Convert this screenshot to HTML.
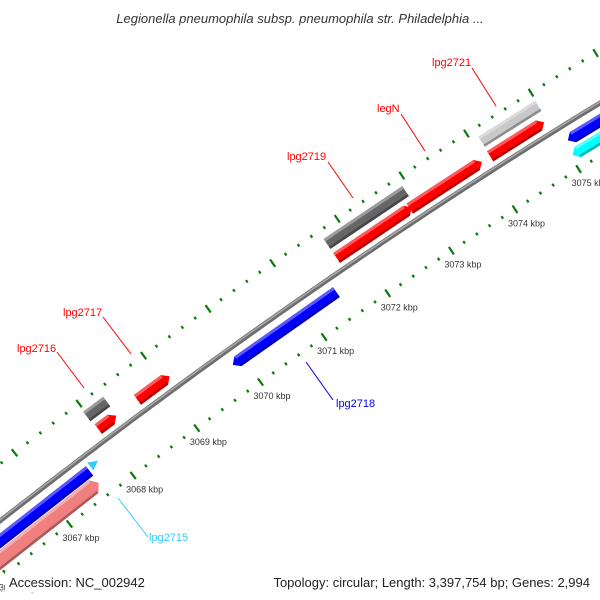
<!DOCTYPE html>
<html><head><meta charset="utf-8"><style>
body{margin:0;background:#fff}
svg{display:block;font-family:"Liberation Sans",sans-serif}
</style></head><body>
<svg id="map" width="600" height="600" viewBox="0 0 600 600" xmlns="http://www.w3.org/2000/svg">
<rect width="600" height="600" fill="#fff"/>
<g id="ticks"></g>
<g id="backbone"></g>
<g id="features"></g>
<g id="labels"></g>
<text x="300" y="23" text-anchor="middle" font-size="13" font-style="italic" fill="#333">Legionella pneumophila subsp. pneumophila str. Philadelphia ...</text>
<text x="0" y="592" font-size="9" fill="#cfcfcf">3066 kbp</text>
<rect x="5" y="572" width="150" height="20" fill="#fff"/>
<text x="9" y="587" font-size="13" fill="#222">Accession: NC_002942</text>
<text x="590" y="587" text-anchor="end" font-size="13" fill="#222">Topology: circular; Length: 3,397,754 bp; Genes: 2,994</text>
</svg>
<script>
const kbpTicks=[3066,3067,3068,3069,3070,3071,3072,3073,3074,3075,3076];
const featNames=["lpg2714","lpg2715-pink","lpg2715","lpg2716","lpg2716b","lpg2717","lpg2718","lpg2719","lpg2719b","legN","lpg2721","lpg2721b","lpg2722","lpg2723"];
const featStart=[3065.0,3065.0,3067.64,3067.98,3068.0,3068.61,3069.84,3071.71,3071.71,3072.85,3074.11,3074.10,3075.08,3075.03];
const featEnd=[3067.6,3067.6,3067.76,3068.29,3068.28,3069.11,3071.46,3072.93,3072.88,3073.97,3074.99,3074.94,3076.2,3076.2];
const featStrand=[-1,1,-1,0,1,1,-1,0,1,1,0,1,-1,-1];
const featRing=[-15,-30,-12,30,13,13,-15,30,13,13,30,13,-15,-30];
const featColor=["#0000ff","#f08080","#33ccff","#666666","#ff0000","#ff0000","#0000ff","#666666","#ff0000","#ff0000","#c8c8c8","#ff0000","#0000ff","#00ffff"];
const labelText=["lpg2716","lpg2717","lpg2719","legN","lpg2721","lpg2718","lpg2715"];
const labelColor=["#ff0000","#ff0000","#ff0000","#ff0000","#ff0000","#0000ff","#33ccff"];
const labelPos=[[17,352],[63,316],[287,160],[377,112],[432,66],[336,407],[149,541]];
const labelLine=[[57,352,84,388],[103,317,131,354],[328,162,353,198],[401,114,425,151],[472,68,496,106],[306,362,333,400],[118,498,148,537]];
const NS="http://www.w3.org/2000/svg";
function bxOf(k){return 42+64.1*(k-3067);}
function P(k,d){const x=bxOf(k);const y=521-0.7833*x+0.0001444*x*x;const m=-0.7833+2*0.0001444*x;const n=Math.hypot(1,m);return [x+d*m/n,y-d/n];}
function mk(tag,attrs,parent){const e=document.createElementNS(NS,tag);for(const k in attrs)e.setAttribute(k,attrs[k]);parent.appendChild(e);return e;}
function pts(a){return a.map(p=>p[0].toFixed(1)+","+p[1].toFixed(1)).join(" ");}
const tg=document.getElementById("ticks");
for(let k=3065;k<=3077.001;k+=0.2){
  const kk=Math.round(k*10)/10;const major=Math.abs(kk-Math.round(kk))<0.01;
  for(const d of [45,-45]){
    const h=major?4.5:1.5;const a=P(kk,d-h),b=P(kk,d+h);
    const l=mk("line",{x1:a[0],y1:a[1],x2:b[0],y2:b[1],stroke:"#0a7a0a","stroke-width":2.2},tg);
    
    
  }
}
kbpTicks.forEach(k=>{const p=P(k,-45);
  const t=mk("text",{x:p[0]-7,y:p[1]+17,"font-size":9,fill:"#333"},tg);t.textContent=k+" kbp";
  
  });
const bg=document.getElementById("backbone");
const bpts=[];for(let k=3065;k<=3077.3;k+=0.1)bpts.push(P(k,0));
const b1=mk("polyline",{points:pts(bpts),fill:"none",stroke:"#6e6e6e","stroke-width":5},bg);


mk("polyline",{points:pts(bpts.map(p=>[p[0]-0.5,p[1]-0.8])),fill:"none",stroke:"#a8a8a8","stroke-width":1.6},bg);
function shade(c,f){const n=parseInt(c.slice(1),16);let r=n>>16,g=(n>>8)&255,b=n&255;
 if(f>0){r+=(255-r)*f;g+=(255-g)*f;b+=(255-b)*f;}else{r*=1+f;g*=1+f;b*=1+f;}
 return "rgb("+Math.round(r)+","+Math.round(g)+","+Math.round(b)+")";}
const fg=document.getElementById("features");
featNames.forEach((nm,i)=>{
  const s=featStart[i],e=featEnd[i],d=featRing[i],st=featStrand[i],c=featColor[i];
  const h=(i==1)?8:6;const a=0.08;
  let poly;
  if(i==2){poly=[P(s,d+5),P(e,d),P(s,d-5)];}
  else if(st==1)poly=[P(s,d+h),P(e-a,d+h),P(e,d),P(e-a,d-h),P(s,d-h)];
  else if(st==-1)poly=[P(s+a,d+h),P(e,d+h),P(e,d-h),P(s+a,d-h),P(s,d)];
  else poly=[P(s,d+h),P(e,d+h),P(e,d-h),P(s,d-h)];
  const g=mk("g",{},fg);
  
  
  mk("polygon",{points:pts(poly),fill:c},g);
  if(i!=2){
    const ss=st==-1?s+a:s,ee=st==1?e-a:e;
    mk("polygon",{points:pts([P(ss,d+h),P(ee,d+h),P(ee,d+h-3),P(ss,d+h-3)]),fill:shade(c,0.35)},g);
    mk("polygon",{points:pts([P(ss,d-h+2.5),P(ee,d-h+2.5),P(ee,d-h),P(ss,d-h)]),fill:shade(c,-0.3)},g);
  }
});
const lg=document.getElementById("labels");
labelText.forEach((t,i)=>{const L=labelLine[i];
  const ln=mk("line",{x1:L[0],y1:L[1],x2:L[2],y2:L[3],stroke:labelColor[i],"stroke-width":1},lg);
  
  
  const tx=mk("text",{x:labelPos[i][0],y:labelPos[i][1],"font-size":11,fill:labelColor[i]},lg);tx.textContent=t;
  
  
});
</script>
</body></html>
